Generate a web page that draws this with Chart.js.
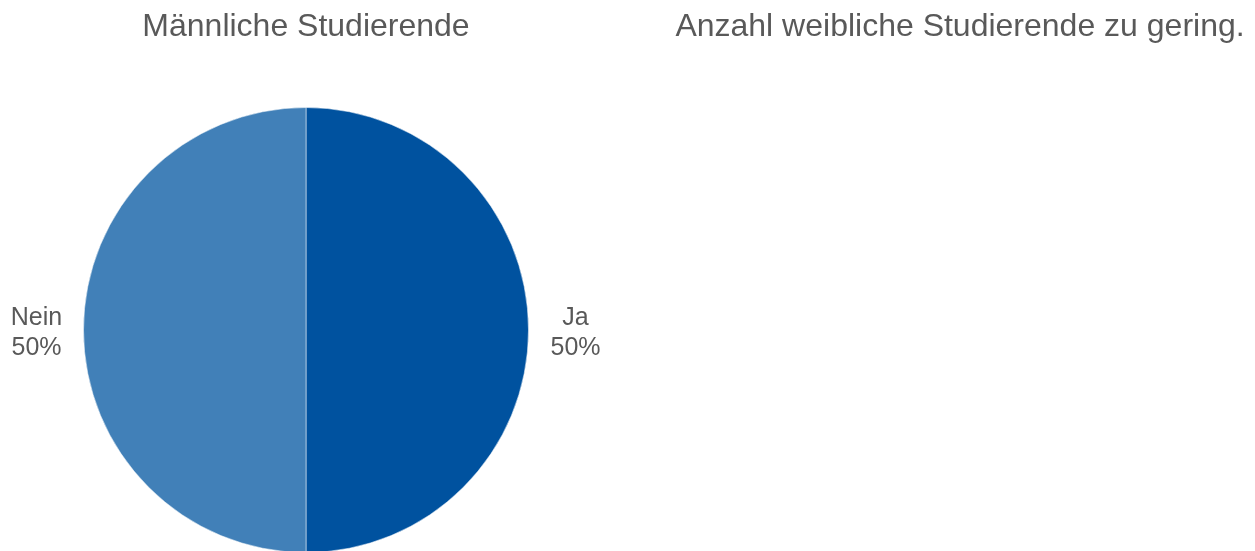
<!DOCTYPE html>
<html>
<head>
<meta charset="utf-8">
<script src="https://cdn.jsdelivr.net/npm/chart.js@4"></script>
<style>
  html, body { margin: 0; padding: 0; background: #fff; overflow: hidden; }
  canvas { display: block; }
</style>
</head>
<body>
<canvas id="pieChart" width="1255" height="560"></canvas>
<script>
// Daten
var categories = ['Ja', 'Nein'];
var values = [50, 50];
var sliceColors = ['#00529F', '#4180B8'];
var chartTitle = 'Männliche Studierende';
var sideNote = 'Anzahl weibliche Studierende zu gering.';

var textColor = '#595959';
var fontName = '"Liberation Sans", Arial, sans-serif';

// Titel und Beschriftungen selbst zeichnen
var labelPlugin = {
  id: 'labelPlugin',
  afterDraw: function(chart) {
    var ctx = chart.ctx;
    var area = chart.chartArea;
    var total = values.reduce(function(a, b) { return a + b; }, 0);
    ctx.save();
    ctx.fillStyle = textColor;
    ctx.textAlign = 'center';
    ctx.textBaseline = 'middle';

    ctx.font = '32px ' + fontName;
    ctx.fillText(chartTitle, (area.left + area.right) / 2, 27);
    ctx.fillText(sideNote, 960, 27);

    ctx.font = '25px ' + fontName;
    var meta = chart.getDatasetMeta(0);
    meta.data.forEach(function(arc, i) {
      var mid = (arc.startAngle + arc.endAngle) / 2;
      var r = arc.outerRadius + 47;
      var x = arc.x + Math.cos(mid) * r;
      var y = arc.y + Math.sin(mid) * r;
      var pct = Math.round(values[i] / total * 100) + '%';
      ctx.fillText(categories[i], x, y - 12);
      ctx.fillText(pct, x, y + 18);
    });
    ctx.restore();
  }
};

var ctx = document.getElementById('pieChart').getContext('2d');
new Chart(ctx, {
  type: 'pie',
  data: {
    labels: categories,
    datasets: [{
      data: values,
      backgroundColor: sliceColors,
      borderColor: 'rgba(255,255,255,0.5)',
      borderWidth: 1
    }]
  },
  options: {
    responsive: false,
    animation: false,
    layout: {
      padding: { left: 83, right: 726, top: 107, bottom: 7 }
    },
    plugins: {
      legend: { display: false },
      tooltip: { enabled: false },
      title: { display: false }
    }
  },
  plugins: [labelPlugin]
});
</script>
</body>
</html>
